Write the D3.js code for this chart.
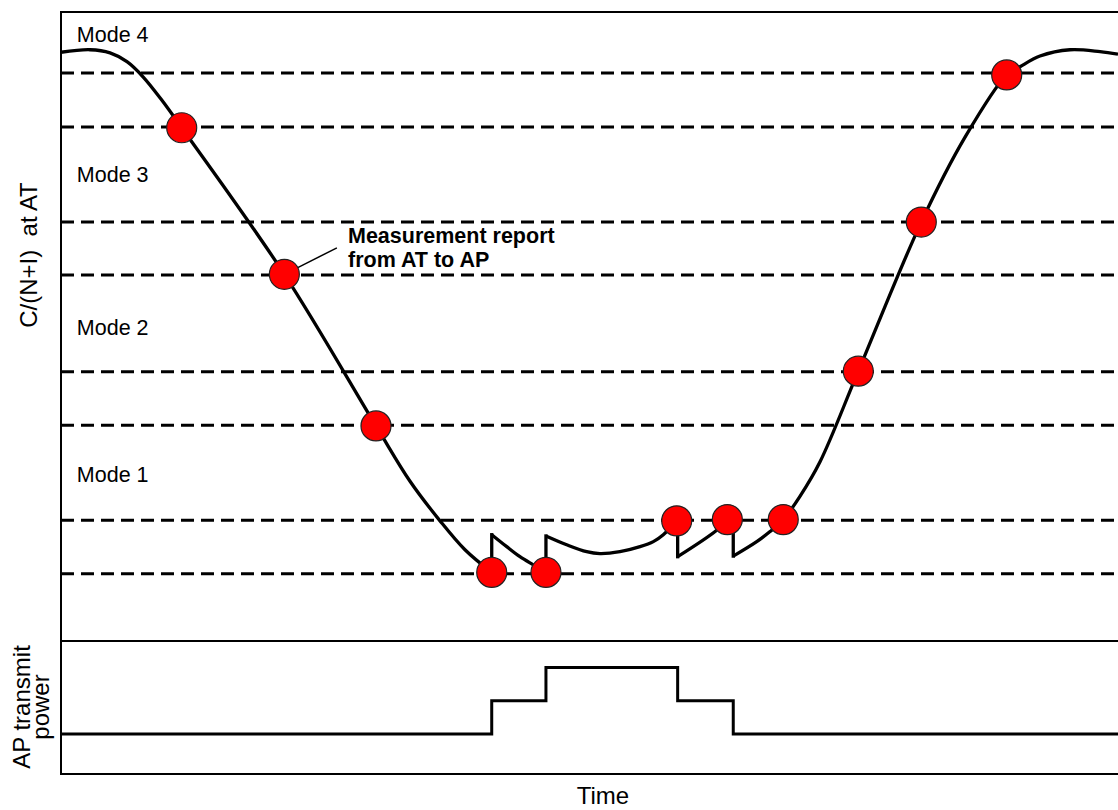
<!DOCTYPE html>
<html>
<head>
<meta charset="utf-8">
<script src="https://cdn.jsdelivr.net/npm/d3@7"></script>
<style>
  body { margin: 0; background: #fff; }
  text { font-family: 'Liberation Sans', Arial, sans-serif; fill: #000; }
</style>
</head>
<body>
<div id="chart"></div>
<script>
// C/(N+I) thresholds (hysteresis pairs), arbitrary units 0-100
const thresholds = [90.3, 81.7, 66.6, 58.2, 42.8, 34.3, 19.2, 10.7]

const modeNames = ['Mode 4', 'Mode 3', 'Mode 2', 'Mode 1']
const modeLabelLevels = [95.3, 72.9, 48.6, 25.2]

// C/(N+I) at AT over time, [time, level]
const descent = [
  [0, 93.6], [2.74, 94.0], [4.64, 93.5], [6.24, 92.1], [7.76, 89.7], [9.53, 86.0],
  [11.42, 81.6], [21.13, 58.3], [29.8, 34.2], [33.02, 25.4], [35.86, 19.1],
  [38.22, 14.5], [40.75, 10.9]
]
const decay = [
  [40.75, 16.9], [42.17, 15.0], [43.42, 13.4], [44.68, 12.1], [45.88, 10.9]
]
const trough = [
  [45.88, 16.7], [47.84, 15.3], [49.73, 14.2], [50.99, 13.9], [52.88, 14.2],
  [54.78, 15.0], [56.04, 15.8], [56.98, 16.9], [58.25, 19.1]
]
const recovery1 = [
  [58.34, 13.4], [62.03, 17.6], [63.04, 19.3]
]
const recovery2 = [
  [63.6, 13.5], [65.82, 15.8], [67.08, 17.4], [68.33, 19.3], [69.91, 23.0],
  [71.81, 28.5], [75.43, 42.9], [81.39, 66.6], [85.53, 80.1], [89.47, 90.0],
  [90.73, 91.3], [92.62, 93.0], [95.46, 94.0], [98.3, 93.7], [100, 93.3]
]

// sudden changes of C/(N+I) when AP power steps
const jumpTimes = [40.75, 45.88, 58.34, 63.6]
const jumpFrom = [10.9, 10.9, 19.1, 19.3]
const jumpTo = [16.9, 16.7, 13.4, 13.5]

// measurement reports from AT to AP
const reportTimes = [11.42, 21.13, 29.8, 40.75, 45.88, 58.25, 63.04, 68.33, 75.43, 81.39, 89.47]
const reportLevels = [81.6, 58.3, 34.2, 10.9, 10.9, 19.1, 19.3, 19.3, 42.9, 66.6, 90.0]

// AP transmit power (step levels)
const powerTimes = [0, 40.75, 45.88, 58.34, 63.6, 100]
const powerLevels = [0, 1, 2, 1, 0, 0]

const annotationLines = ['Measurement report', 'from AT to AP']

const width = 1118
const height = 810

const svg = d3.select('#chart')
  .append('svg')
  .attr('width', width)
  .attr('height', height)

const x = d3.scaleLinear().domain([0, 100]).range([61, 1118])
const yTop = d3.scaleLinear().domain([0, 100]).range([641, 12])
const yPower = d3.scaleLinear().domain([-1.2, 2.8]).range([774, 641])

// threshold lines
svg.selectAll('.threshold')
  .data(thresholds)
  .enter()
  .append('line')
  .attr('class', 'threshold')
  .attr('x1', x(0))
  .attr('x2', x(100))
  .attr('y1', d => yTop(d))
  .attr('y2', d => yTop(d))
  .attr('stroke', '#000')
  .attr('stroke-width', 3)
  .attr('stroke-dasharray', '13,7')

// mode labels
svg.selectAll('.mode-label')
  .data(modeNames)
  .enter()
  .append('text')
  .attr('class', 'mode-label')
  .attr('x', x(1.5))
  .attr('y', (d, i) => yTop(modeLabelLevels[i]))
  .attr('font-size', 21.5)
  .text(d => d)

const line = d3.line()
  .x(d => x(d[0]))
  .y(d => yTop(d[1]))
  .curve(d3.curveCatmullRom.alpha(0.5))

svg.selectAll('.cni')
  .data([descent, decay, trough, recovery1, recovery2])
  .enter()
  .append('path')
  .attr('class', 'cni')
  .attr('d', line)
  .attr('fill', 'none')
  .attr('stroke', '#000')
  .attr('stroke-width', 3.3)
  .attr('stroke-linejoin', 'round')

svg.selectAll('.jump')
  .data(jumpTimes)
  .enter()
  .append('line')
  .attr('class', 'jump')
  .attr('x1', d => x(d))
  .attr('x2', d => x(d))
  .attr('y1', (d, i) => yTop(jumpFrom[i]))
  .attr('y2', (d, i) => yTop(jumpTo[i]))
  .attr('stroke', '#000')
  .attr('stroke-width', 3.3)
  .attr('stroke-linecap', 'square')

// leader line from second report to annotation
const labelT = 27.15
const labelV = 63.2
const leaderEnd = [26.1, 62.5]
const cx = x(reportTimes[1])
const cy = yTop(reportLevels[1])
const ex = x(leaderEnd[0])
const ey = yTop(leaderEnd[1])
const len = Math.hypot(ex - cx, ey - cy)

svg.append('line')
  .attr('x1', cx + (ex - cx) / len * 15)
  .attr('y1', cy + (ey - cy) / len * 15)
  .attr('x2', ex)
  .attr('y2', ey)
  .attr('stroke', '#000')
  .attr('stroke-width', 1.5)

svg.selectAll('.report')
  .data(reportTimes)
  .enter()
  .append('circle')
  .attr('class', 'report')
  .attr('cx', d => x(d))
  .attr('cy', (d, i) => yTop(reportLevels[i]))
  .attr('r', 15)
  .attr('fill', '#ff0000')
  .attr('stroke', '#222')
  .attr('stroke-width', 1.2)

svg.selectAll('.annotation')
  .data(annotationLines)
  .enter()
  .append('text')
  .attr('class', 'annotation')
  .attr('x', x(labelT))
  .attr('y', (d, i) => yTop(labelV) + i * 24)
  .attr('font-size', 21.5)
  .attr('font-weight', 'bold')
  .text(d => d)

// AP transmit power
const powerLine = d3.line()
  .x((d, i) => x(d))
  .y((d, i) => yPower(powerLevels[i]))
  .curve(d3.curveStepAfter)

svg.append('path')
  .datum(powerTimes)
  .attr('d', powerLine)
  .attr('fill', 'none')
  .attr('stroke', '#000')
  .attr('stroke-width', 3)

// frame
const frame = svg.append('g').attr('stroke', '#000').attr('stroke-width', 2)
frame.append('line')
  .attr('x1', x(0)).attr('x2', x(100))
  .attr('y1', yTop(100)).attr('y2', yTop(100))
frame.append('line')
  .attr('x1', x(0)).attr('x2', x(100))
  .attr('y1', yTop(0)).attr('y2', yTop(0))
frame.append('line')
  .attr('x1', x(0)).attr('x2', x(100))
  .attr('y1', yPower(-1.2)).attr('y2', yPower(-1.2))
frame.append('line')
  .attr('x1', x(0)).attr('x2', x(0))
  .attr('y1', yTop(100) - 1).attr('y2', yPower(-1.2) + 1)

// axis titles
svg.append('text')
  .attr('transform', 'translate(37,255) rotate(-90)')
  .attr('text-anchor', 'middle')
  .attr('font-size', 24)
  .style('white-space', 'pre')
  .text('C/(N+I)  at AT')

svg.append('text')
  .attr('transform', 'translate(30,707) rotate(-90)')
  .attr('text-anchor', 'middle')
  .attr('font-size', 24)
  .text('AP transmit')

svg.append('text')
  .attr('transform', 'translate(49,707) rotate(-90)')
  .attr('text-anchor', 'middle')
  .attr('font-size', 24)
  .text('power')

svg.append('text')
  .attr('x', 603)
  .attr('y', 804)
  .attr('text-anchor', 'middle')
  .attr('font-size', 24)
  .text('Time')
</script>
</body>
</html>
